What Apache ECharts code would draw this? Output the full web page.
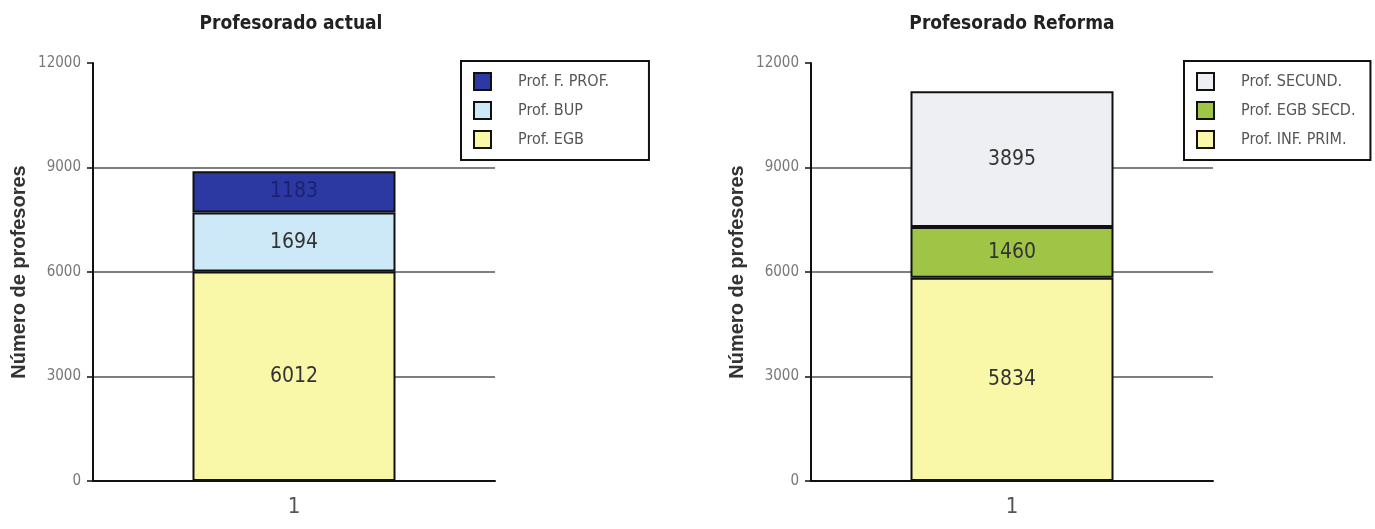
<!DOCTYPE html>
<html>
<head>
<meta charset="utf-8">
<title>Profesorado</title>
<script src="https://cdn.jsdelivr.net/npm/echarts@6/dist/echarts.min.js"></script>
<style>
    html, body { margin: 0; padding: 0; background: #fff; }
    #main { width: 1375px; height: 529px; }
</style>
</head>
<body>
<div id="main"></div>
<script>
// datos
const categories = ['1'];
const actualNames = ['Prof. EGB', 'Prof. BUP', 'Prof. F. PROF.'];
const actualValues = [6012, 1694, 1183];
const actualColors = ['#f9f8a9', '#cde8f6', '#2c39a3'];
const actualLabelColors = ['#333', '#333', '#1c2170'];
const reformaNames = ['Prof. INF. PRIM.', 'Prof. EGB SECD.', 'Prof. SECUND.'];
const reformaValues = [5834, 1460, 3895];
const reformaColors = ['#f9f8a8', '#a0c446', '#eeeff2'];
const reformaLabelColors = ['#333', '#333', '#333'];
const yMin = 0, yMax = 12000, yStep = 3000;

const narrow = "'Liberation Sans Narrow', 'DejaVu Sans Condensed', sans-serif";

function makeXAxis(i) {
    return {
        type: 'category',
        gridIndex: i,
        data: categories,
        axisLine: { lineStyle: { color: '#111', width: 2 } },
        axisTick: { alignWithLabel: true, length: 12, lineStyle: { color: '#111', width: 2 } },
        axisLabel: { fontFamily: narrow, fontSize: 22, color: '#555', margin: 15 }
    }
}

function makeYAxis(i) {
    return {
        type: 'value',
        gridIndex: i,
        min: yMin,
        max: yMax,
        interval: yStep,
        name: 'Número de profesores',
        nameLocation: 'middle',
        nameGap: 64,
        nameMoveOverlap: false,
        nameTextStyle: { fontFamily: "'Liberation Sans', Arial, sans-serif", fontWeight: 'bold', fontSize: 20, color: '#333' },
        axisLine: { show: true, lineStyle: { color: '#111', width: 2 } },
        axisTick: { show: true, length: 6, lineStyle: { color: '#111', width: 1.5 } },
        axisLabel: { fontFamily: narrow, fontSize: 15, color: '#777', margin: 12, padding: [7, 0, 0, 0], formatter: v => String(v) },
        splitLine: { show: true, showMaxLine: false, lineStyle: { color: '#555', width: 1.5 } }
    }
}

function makeSeries(names, values, colors, labelColors, idx, stack) {
    return names.map((n, k) => ({
        name: n,
        type: 'bar',
        stack: stack,
        xAxisIndex: idx,
        yAxisIndex: idx,
        barWidth: 203,
        data: [values[k]],
        itemStyle: { color: colors[k], borderColor: '#111', borderWidth: 2 },
        label: { show: true, position: 'inside', fontFamily: narrow, fontSize: 21, color: labelColors[k] }
    }))
}

function makeLegend(names, left, padRight) {
    return {
        data: names.slice().reverse(),
        orient: 'vertical',
        left: left,
        top: 61,
        padding: [11, padRight, 11, 12],
        itemWidth: 17,
        itemHeight: 17,
        itemGap: 10,
        icon: 'rect',
        borderColor: '#111',
        borderWidth: 2,
        borderRadius: 0,
        textStyle: { fontFamily: narrow, fontSize: 16, color: '#555', lineHeight: 19, padding: [0, 0, 0, 22] }
    }
}

const option = {
    animation: false,
    backgroundColor: '#fff',
    title: [
        { text: 'Profesorado actual', left: 286, top: 10, textAlign: 'center',
          textStyle: { fontFamily: narrow, fontWeight: 'bold', fontSize: 19, color: '#222' } },
        { text: 'Profesorado Reforma', left: 1007, top: 10, textAlign: 'center',
          textStyle: { fontFamily: narrow, fontWeight: 'bold', fontSize: 19, color: '#222' } }
    ],
    legend: [
        makeLegend(actualNames, 461, 40),
        makeLegend(reformaNames, 1184, 15)
    ],
    grid: [
        { left: 93, top: 63, width: 402, height: 418, containLabel: false, outerBoundsMode: 'none' },
        { left: 811, top: 63, width: 402, height: 418, containLabel: false, outerBoundsMode: 'none' }
    ],
    xAxis: [makeXAxis(0), makeXAxis(1)],
    yAxis: [makeYAxis(0), makeYAxis(1)],
    series: makeSeries(actualNames, actualValues, actualColors, actualLabelColors, 0, 'actual')
        .concat(makeSeries(reformaNames, reformaValues, reformaColors, reformaLabelColors, 1, 'reforma'))
};

const myChart = echarts.init(document.getElementById('main'));
myChart.setOption(option);
</script>
</body>
</html>
